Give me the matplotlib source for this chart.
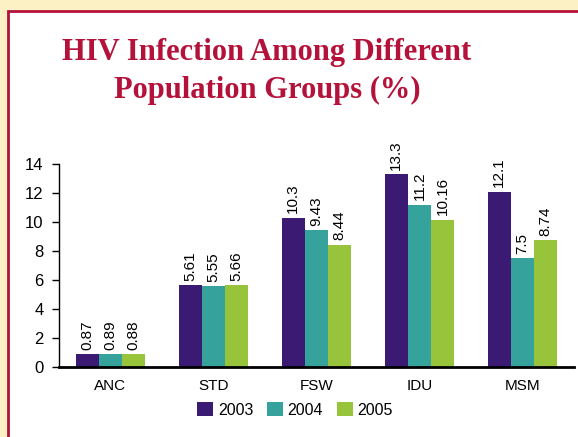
import matplotlib.pyplot as plt
from matplotlib.patches import Rectangle
import numpy as np

# data
groups = ["ANC", "STD", "FSW", "IDU", "MSM"]
years = ["2003", "2004", "2005"]
v2003 = [0.87, 5.61, 10.3, 13.3, 12.1]
v2004 = [0.89, 5.55, 9.43, 11.2, 7.5]
v2005 = [0.88, 5.66, 8.44, 10.16, 8.74]
labels2003 = ["0.87", "5.61", "10.3", "13.3", "12.1"]
labels2004 = ["0.89", "5.55", "9.43", "11.2", "7.5"]
labels2005 = ["0.88", "5.66", "8.44", "10.16", "8.74"]

colors = ["#3b1a73", "#36a29c", "#98c43c"]
cream = "#fcf1c4"
crimson = "#b4123a"

W, H = 578, 437
fig = plt.figure(figsize=(W / 100, H / 100), dpi=100, facecolor=cream)

# white panel with red border
panel = Rectangle((7.5 / W, -0.05), 1.2, (H - 11) / H + 0.05,
                  transform=fig.transFigure, facecolor="white",
                  edgecolor=crimson, linewidth=2, zorder=0)
fig.add_artist(panel)

# title
fig.text(267 / W, 1 - 60 / H, "HIV Infection Among Different", ha="center",
         va="baseline", fontsize=22, fontweight="bold",
         family="Liberation Serif", color=crimson)
fig.text(267 / W, 1 - 98 / H, "Population Groups (%)", ha="center",
         va="baseline", fontsize=22, fontweight="bold",
         family="Liberation Serif", color=crimson)

ax = fig.add_axes([59 / W, 70.3 / H, 515 / W, 202.7 / H])
ax.set_facecolor("none")

x = np.arange(len(groups))
bw = 0.225
series = [v2003, v2004, v2005]
labs = [labels2003, labels2004, labels2005]
for i in range(3):
    xs = x + (i - 1) * bw
    ax.bar(xs, series[i], bw, color=colors[i], label=years[i])
    for xx, vv, tt in zip(xs, series[i], labs[i]):
        ax.annotate(tt, (xx, vv), xytext=(0, 3), textcoords="offset points",
                    rotation=90, ha="center", va="bottom", fontsize=11,
                    family="Liberation Sans")

ax.set_xlim(-0.5, 4.5)
ax.set_ylim(0, 14)
ax.set_yticks(range(0, 15, 2))
ax.set_xticks(x)
ax.set_xticklabels(groups)
for s in ["top", "right"]:
    ax.spines[s].set_visible(False)
ax.spines["bottom"].set_linewidth(2)
ax.spines["left"].set_linewidth(1)
ax.tick_params(axis="y", length=5, width=1, pad=6, labelsize=12)
ax.tick_params(axis="x", length=0, pad=9, labelsize=11)
for t in ax.get_xticklabels() + ax.get_yticklabels():
    t.set_family("Liberation Sans")

fig.legend(loc="center", bbox_to_anchor=(295 / W, 1 - 410 / H), ncol=3,
           frameon=False, handlelength=1.0, handleheight=1.0,
           handletextpad=0.3, columnspacing=0.85,
           prop={"family": "Liberation Sans", "size": 11.5})

fig.savefig("out.png", dpi=100, facecolor=cream)
